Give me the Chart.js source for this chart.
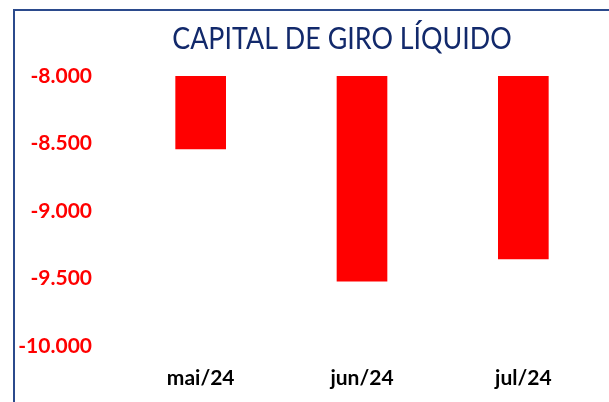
<html>
<head>
<meta charset="utf-8">
<script src="https://cdn.jsdelivr.net/npm/chart.js@4/dist/chart.umd.min.js"></script>
<style>
body { margin: 0; background: #fff; overflow: hidden; }
#frame { position: absolute; left: 13px; top: 9px; width: 620px; height: 420px; border-left: 2px solid #2B4A8C; border-top: 2px solid #2B4A8C; }
#wrap { position: absolute; left: 0; top: 0; width: 609px; height: 402px; }
</style>
</head>
<body>
<div id="frame"></div>
<div id="wrap"><canvas id="myChart" width="609" height="402"></canvas></div>
<script>
// dados
let titleText = 'CAPITAL DE GIRO LÍQUIDO';
let months = ['mai/24', 'jun/24', 'jul/24'];
let cgl = [-8540, -9520, -9355];
let yTicks = [-8000, -8500, -9000, -9500, -10000];

// titulo desenhado a mao (fonte estreita tipo Calibri)
const titlePlugin = {
    id: 'narrowTitle',
    afterDraw(chart) {
        const c = chart.ctx;
        c.save();
        c.translate(342, 39);
        c.scale(0.895, 1);
        c.font = '30px Lato';
        c.fillStyle = '#12296B';
        c.textAlign = 'center';
        c.textBaseline = 'middle';
        c.fillText(titleText, 0, 0);
        c.restore();
    }
};

let ctx = document.getElementById('myChart').getContext('2d');
let myChart = new Chart(ctx, {
    type: 'bar',
    data: {
        labels: months,
        datasets: [{
            label: titleText,
            data: cgl,
            backgroundColor: '#FF0000',
            barThickness: 50
        }]
    },
    options: {
        responsive: false,
        animation: false,
        layout: { padding: { left: 0, right: 5, top: 76, bottom: 0 } },
        plugins: {
            legend: { display: false },
            tooltip: { enabled: false },
            title: { display: false }
        },
        scales: {
            x: {
                afterFit: (s) => { s.height = 56; },
                grid: { display: false, drawTicks: false },
                border: { display: false },
                ticks: {
                    color: '#000',
                    padding: 19.5,
                    font: { family: 'Lato', size: 21, weight: 'bold' }
                }
            },
            y: {
                min: -10000,
                max: -8000,
                afterFit: (s) => { s.width = 120; },
                afterBuildTicks: (s) => { s.ticks = yTicks.map(v => ({ value: v })); },
                grid: { display: false, drawTicks: false },
                border: { display: false },
                ticks: {
                    color: '#FF0000',
                    padding: 28,
                    font: { family: 'Lato', size: 21, weight: 'bold' },
                    callback: (v) => v.toLocaleString('pt-BR')
                }
            }
        }
    },
    plugins: [titlePlugin]
});
</script>
</body>
</html>
